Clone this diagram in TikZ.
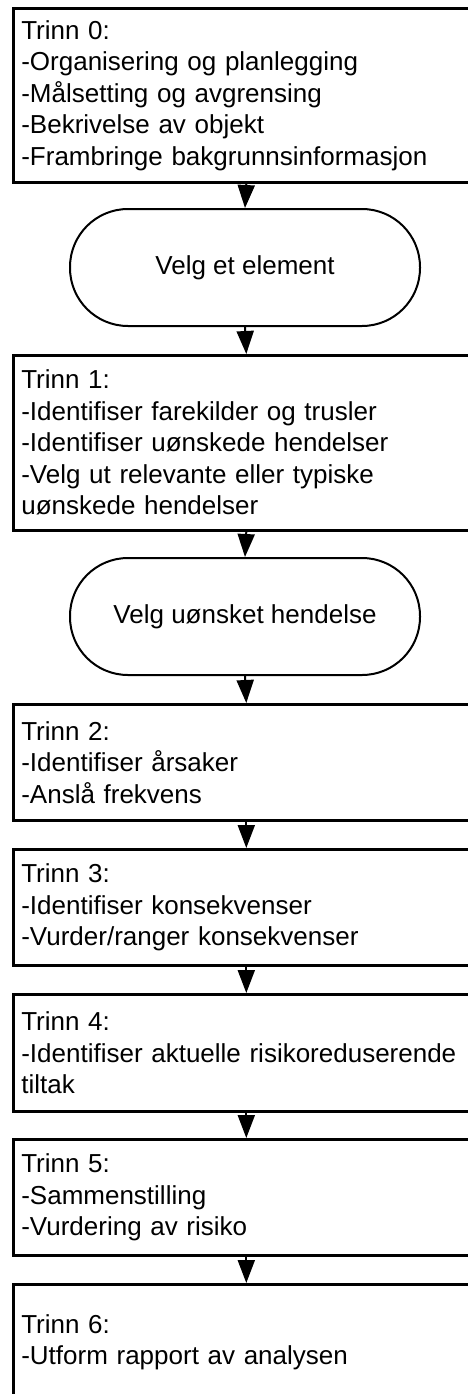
\documentclass[tikz,border=0pt]{standalone}
\usepackage{fontspec}
\setmainfont{Liberation Sans}
\usetikzlibrary{arrows.meta}
\begin{document}
\begin{tikzpicture}[x=1pt,y=1pt,
  stepbox/.style={draw, line width=2.6pt, anchor=north west, text width=450pt,
    inner xsep=8pt, inner ysep=0pt, align=left,
    font=\fontsize{26}{31.5}\selectfont},
  term/.style={draw, line width=2pt, rounded corners=58pt, minimum width=350pt,
    minimum height=117pt, inner sep=0pt, font=\fontsize{26}{31.5}\selectfont},
  flow/.style={line width=2pt, -{Triangle[length=23pt,width=17pt]}}]
\useasboundingbox (0,0) rectangle (468,-1394);
\clip (0,0) rectangle (468,-1394);
\fill[white] (0,0) rectangle (468,-1394);

\node[stepbox, minimum height=174pt] (b0) at (12,-7)
  {Trinn 0:\\-Organisering og planlegging\\-Målsetting og avgrensing\\-Bekrivelse av objekt\\-Frambringe bakgrunnsinformasjon};
\node[term] (e1) at (245,-267.5) {Velg et element};
\node[stepbox, minimum height=175pt] (b1) at (12,-354)
  {Trinn 1:\\-Identifiser farekilder og trusler\\-Identifiser uønskede hendelser\\-Velg ut relevante eller typiske\\uønskede hendelser};
\node[term] (e2) at (245,-616.5) {Velg uønsket hendelse};
\node[stepbox, minimum height=116pt] (b2) at (12,-703)
  {Trinn 2:\\-Identifiser årsaker\\-Anslå frekvens};
\node[stepbox, minimum height=116pt] (b3) at (12,-848)
  {Trinn 3:\\-Identifiser konsekvenser\\-Vurder/ranger konsekvenser};
\node[stepbox, minimum height=117pt] (b4) at (12,-993)
  {Trinn 4:\\-Identifiser aktuelle risikoreduserende\\tiltak};
\node[stepbox, minimum height=116pt] (b5) at (12,-1138)
  {Trinn 5:\\-Sammenstilling\\-Vurdering av risiko};
\node[stepbox, minimum height=116pt] (b6) at (12,-1283)
  {Trinn 6:\\-Utform rapport av analysen};

\draw[flow] (b0.south) -- (e1.north);
\draw[flow] (e1.south) -- (b1.north);
\draw[flow] (b1.south) -- (e2.north);
\draw[flow] (e2.south) -- (b2.north);
\draw[flow] (b2.south) -- (b3.north);
\draw[flow] (b3.south) -- (b4.north);
\draw[flow] (b4.south) -- (b5.north);
\draw[flow] (b5.south) -- (b6.north);
\end{tikzpicture}
\end{document}
